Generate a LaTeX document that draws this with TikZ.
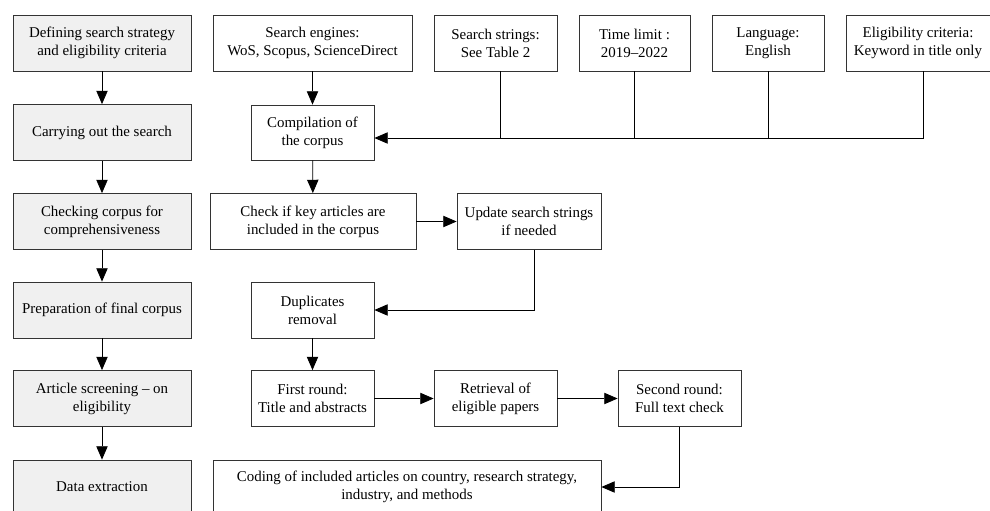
\documentclass[tikz,border=0pt]{standalone}
\usepackage{fontspec}
\setmainfont{Liberation Serif}
\usetikzlibrary{arrows.meta}

\tikzset{
  stage/.style={draw=black!80, line width=0.6pt, fill=black!6, minimum width=133.5pt, minimum height=42pt, align=center, inner sep=2pt},
  step box/.style={draw=black!80, line width=0.6pt, fill=white, minimum height=42pt, align=center, inner sep=2pt},
  arrow/.style={-{Triangle[length=10pt,width=8.5pt]}, line width=0.6pt},
  link/.style={line width=0.6pt}
}

\begin{document}
\begin{tikzpicture}[x=0.75pt,y=-0.75pt,every node/.style={font=\fontsize{11.2}{13.5}\selectfont}]
\useasboundingbox (0,0) rectangle (990,511);
\clip (0,0) rectangle (990,511);
% left column: stages
\node[stage] (def) at (102,43) {Defining search strategy\\and eligibility criteria};
\node[stage] (carry) at (102,132.5) {Carrying out the search};
\node[stage] (checkc) at (102,221.5) {Checking corpus for\\comprehensiveness};
\node[stage] (prep) at (102,310) {Preparation of final corpus};
\node[stage] (screen) at (102,398.5) {Article screening -- on\\eligibility};
\node[stage, minimum height=40.5pt] (extract) at (102,487) {Data extraction};
\draw[arrow] (def) -- (carry);
\draw[arrow] (carry) -- (checkc);
\draw[arrow] (checkc) -- (prep);
\draw[arrow] (prep) -- (screen);
\draw[arrow] (screen) -- (extract);
% top row: search settings
\node[step box, minimum width=149.25pt] (engines) at (312.5,43) {Search engines:\\WoS, Scopus, ScienceDirect};
\node[step box, minimum width=92.25pt] (strings) at (495.5,43) {Search strings:\\See Table 2};
\node[step box, minimum width=83.25pt] (timelim) at (634.5,43) {Time limit :\\2019--2022};
\node[step box, minimum width=84pt] (lang) at (768,43) {Language:\\English};
\node[step box, minimum width=108pt] (elig) at (918,43) {Eligibility criteria:\\Keyword in title only};
% search and corpus check
\node[step box, minimum width=92.25pt, minimum height=41.25pt] (compile) at (312.5,132.5) {Compilation of\\the corpus};
\node[step box, minimum width=154.5pt] (keycheck) at (313,221.5) {Check if key articles are\\included in the corpus};
\node[step box, minimum width=108pt] (update) at (529,221.5) {Update search strings\\if needed};
\node[step box, minimum width=92.25pt] (dup) at (312.5,310) {Duplicates\\removal};
% screening
\node[step box, minimum width=92.25pt] (first) at (312.5,398.5) {First round:\\Title and abstracts};
\node[step box, minimum width=92.25pt] (retrieve) at (495.5,398.5) {Retrieval of\\eligible papers};
\node[step box, minimum width=92.25pt] (second) at (679.5,398.5) {Second round:\\Full text check};
\node[step box, minimum width=291pt, minimum height=40.5pt] (coding) at (407,487) {Coding of included articles on country, research strategy,\\industry, and methods};
% connectors
\coordinate (join) at (923,138);
\draw[arrow] (engines) -- (compile);
\draw[link] ([xshift=4pt]strings.south) -- ([xshift=4pt]strings.south |- join);
\draw[link] (timelim.south) -- (timelim.south |- join);
\draw[link] (lang.south) -- (lang.south |- join);
\draw[arrow] (elig.south -| join) -- (join) -- (compile.east |- join);
\draw[arrow] (compile) -- (keycheck);
\draw[arrow] (keycheck) -- (update);
\draw[arrow] ([xshift=4pt]update.south) |- (dup.east);
\draw[arrow] (dup) -- (first);
\draw[arrow] (first) -- (retrieve);
\draw[arrow] (retrieve) -- (second);
\draw[arrow] (second.south) |- (coding.east);
\end{tikzpicture}
\end{document}
